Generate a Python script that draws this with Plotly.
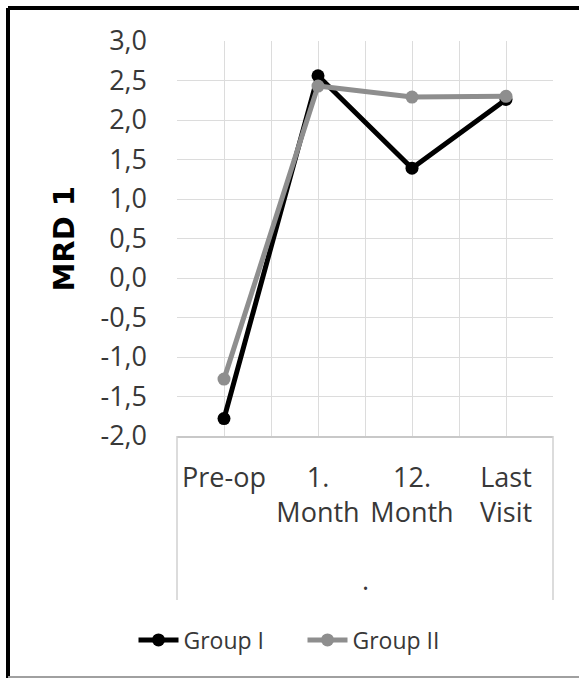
import plotly.graph_objects as go

# Canvas and plot-area geometry (pixels)
W, H = 579, 678
M_L, M_R, M_T, M_B = 177, 26, 41, 242

# Data
categories = ["Pre-op", "1.<br>Month", "12.<br>Month", "Last<br>Visit"]
group_1 = [-1.78, 2.56, 1.39, 2.26]
group_2 = [-1.28, 2.43, 2.29, 2.30]
y_ticks = [-2.0, -1.5, -1.0, -0.5, 0.0, 0.5, 1.0, 1.5, 2.0, 2.5, 3.0]
y_tick_labels = ["-2,0", "-1,5", "-1,0", "-0,5", "0,0", "0,5",
                 "1,0", "1,5", "2,0", "2,5", "3,0"]

FONT = "Open Sans"
TEXT = "#383838"
GRID = "#dcdcdc"
BLACK = "#000000"
GREY = "#8e8e8e"

plot_w = W - M_L - M_R
plot_h = H - M_T - M_B


def px_x(px):
    return (px - M_L) / plot_w


def px_y(py):
    return (H - M_B - py) / plot_h


x_pos = list(range(len(categories)))
# vertical grid at category centres and boundaries
x_grid = [i / 2 - 0.5 for i in range(2 * len(categories) + 1)]
x_text = [categories[int(v)] if float(v).is_integer() else "" for v in x_grid]

fig = go.Figure()
fig.add_trace(go.Scatter(
    x=x_pos, y=group_1, name="Group I", mode="lines+markers",
    line=dict(color=BLACK, width=5),
    marker=dict(color=BLACK, size=13),
))
fig.add_trace(go.Scatter(
    x=x_pos, y=group_2, name="Group II", mode="lines+markers",
    line=dict(color=GREY, width=5),
    marker=dict(color=GREY, size=13),
))

fig.update_xaxes(
    range=[-0.5, len(categories) - 0.5],
    tickvals=x_grid, ticktext=x_text,
    showgrid=True, gridcolor=GRID, gridwidth=1,
    showline=True, linecolor="#c8c8c8", linewidth=1.5,
    zeroline=False, ticks="", ticklabelstandoff=17,
    tickfont=dict(family=FONT, size=27, color=TEXT),
    fixedrange=True,
)
fig.update_yaxes(
    range=[-2.0, 3.0],
    tickvals=y_ticks, ticktext=y_tick_labels,
    showgrid=True, gridcolor=GRID, gridwidth=1,
    showline=False, zeroline=False, ticks="", ticklabelstandoff=29,
    tickfont=dict(family=FONT, size=27, color=TEXT),
    fixedrange=True,
)

frame_left = px_x(8)
frame_top = px_y(8)
frame_bottom = px_y(677)
box_bottom = px_y(600)

shapes = [
    # chart border
    dict(type="line", xref="paper", yref="paper", x0=frame_left, x1=1.2,
         y0=frame_top, y1=frame_top, line=dict(color=BLACK, width=4)),
    dict(type="line", xref="paper", yref="paper", x0=frame_left, x1=frame_left,
         y0=frame_top, y1=frame_bottom - 0.05, line=dict(color=BLACK, width=4)),
    dict(type="line", xref="paper", yref="paper", x0=frame_left, x1=1.2,
         y0=frame_bottom, y1=frame_bottom, line=dict(color="#a0a0a0", width=2)),
    # category-axis label box
    dict(type="line", xref="paper", yref="paper", x0=0, x1=0,
         y0=0, y1=box_bottom, line=dict(color="#d0d0d0", width=1.5)),
    dict(type="line", xref="paper", yref="paper", x0=1, x1=1,
         y0=0, y1=box_bottom, line=dict(color="#d0d0d0", width=1.5)),
]

annotations = [
    dict(text="<b>MRD 1</b>", textangle=-90, xref="paper", yref="paper",
         x=px_x(63), y=0.5, xanchor="center", yanchor="middle",
         showarrow=False, font=dict(family="DejaVu Sans", size=29, color=BLACK)),
    dict(text=".", xref="paper", yref="paper", x=0.5, y=px_y(579),
         xanchor="center", yanchor="middle", showarrow=False,
         font=dict(family=FONT, size=27, color=TEXT)),
]

fig.update_layout(
    width=W, height=H,
    margin=dict(l=M_L, r=M_R, t=M_T, b=M_B, autoexpand=False),
    paper_bgcolor="white", plot_bgcolor="white",
    showlegend=True,
    legend=dict(
        orientation="h", xref="container", yref="container",
        x=(W / 2 + 13) / W, xanchor="center", y=1 - 640 / H, yanchor="middle",
        font=dict(family=FONT, size=23, color=TEXT),
        itemwidth=40, entrywidth=114, bgcolor="rgba(0,0,0,0)",
    ),
    shapes=shapes,
    annotations=annotations,
    hovermode=False,
)

fig.write_html("out.html")
